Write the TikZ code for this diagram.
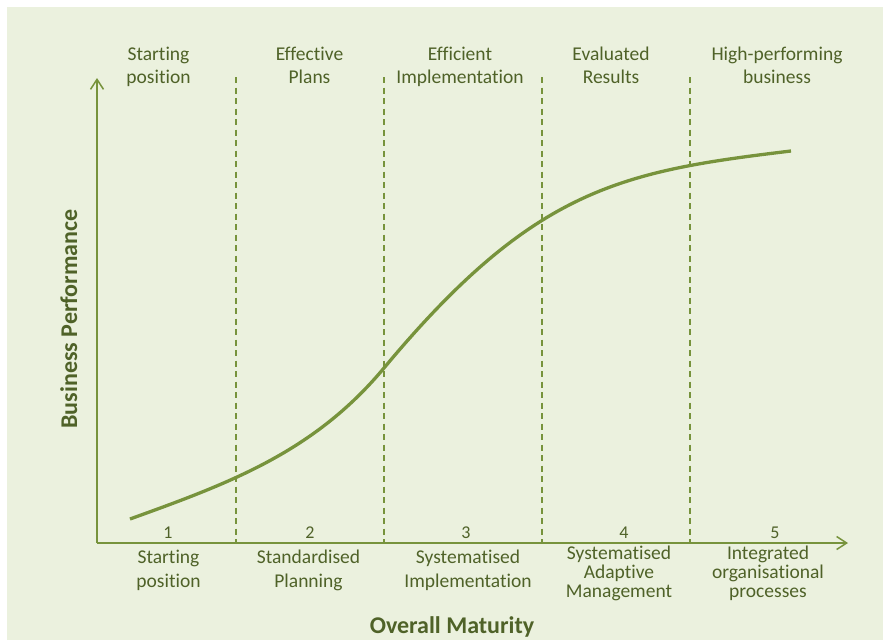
\documentclass[tikz,border=0pt]{standalone}
\usepackage{fontspec}
\setmainfont{Carlito}[Ligatures={NoCommon}]
\usetikzlibrary{arrows.meta}
\definecolor{bgolive}{HTML}{EBF1DE}
\definecolor{lineolive}{HTML}{77933C}
\definecolor{textolive}{HTML}{4F6228}
\begin{document}
\begin{tikzpicture}[x=1pt,y=-1pt,
  axis/.style={draw=lineolive,line width=1.5pt,-{Straight Barb[length=10pt,width=13pt,line width=1.5pt]}},
  divider/.style={draw=lineolive,line width=1.5pt,dash pattern=on 6pt off 4.5pt},
  scurve/.style={draw=lineolive,line width=3.3pt},
  phase/.style={text=textolive,font=\fontsize{19.5}{23}\selectfont,align=center,inner sep=0pt,anchor=base},
  level/.style={text=textolive,font=\fontsize{19.5}{23.5}\selectfont,align=center,inner sep=0pt,anchor=base},
  tight/.style={font=\fontsize{19.5}{19}\selectfont},
  num/.style={text=textolive,font=\fontsize{18}{20}\selectfont,inner sep=0pt,anchor=base},
  axlabel/.style={text=textolive,font=\fontsize{24}{28}\selectfont\bfseries,inner sep=0pt,anchor=base}]
% page and panel
\useasboundingbox (0,0) rectangle (883,640);
\fill[white] (0,0) rectangle (883,640);
\fill[bgolive] (7,7) rectangle (883,640);

% axes
\coordinate (O) at (97,543);
\coordinate (ytop) at (97,78);
\coordinate (xend) at (848,543);
\draw[axis] (O) -- (ytop);
\draw[axis] (O) -- (xend);

% stage dividers
\foreach \x [count=\i] in {236,384,542,690} {
  \coordinate (d\i top) at (\x,77);
  \coordinate (d\i bot) at (\x,543);
  \draw[divider] (d\i top) -- (d\i bot);
}

% maturity curve: two cubic pieces joined with a common tangent
\coordinate (c0) at (130,519);
\coordinate (c1) at (384,368);
\coordinate (c2) at (791,151);
\draw[scurve] (c0) .. controls (230,483) and (314,452) .. (c1)
                   .. controls (534,188) and (621,171.4) .. (c2);

% phase labels along the top (anchored at the last line's baseline)
\node[phase] (p1) at (158.5,83) {Starting\\position};
\node[phase] (p2) at (309.5,83) {Effective\\Plans};
\node[phase] (p3) at (460,83) {Efficient\\Implementation};
\node[phase] (p4) at (611,83) {Evaluated\\Results};
\node[phase] (p5) at (777,83) {High-performing\\business};

% level numbers
\node[num] (n1) at (168,538) {1};
\node[num] (n2) at (310,538) {2};
\node[num] (n3) at (466,538) {3};
\node[num] (n4) at (624,538) {4};
\node[num] (n5) at (775,538) {5};

% maturity levels below the axis
\node[level] (l1) at (168.5,587) {Starting\\position};
\node[level] (l2) at (308.5,587) {Standardised\\Planning};
\node[level] (l3) at (468,587) {Systematised\\Implementation};
\node[level,tight] (l4) at (619,597) {Systematised\\Adaptive\\Management};
\node[level,tight] (l5) at (768,597) {Integrated\\organisational\\processes};

% axis titles
\node[axlabel] (xt) at (452,633) {Overall Maturity};
\node[axlabel,rotate=90] (yt) at (77,319) {Business Performance};
\end{tikzpicture}
\end{document}
